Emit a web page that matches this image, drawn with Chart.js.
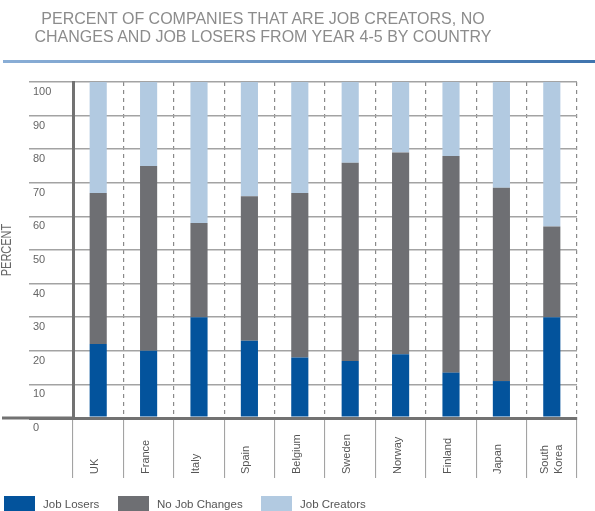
<!DOCTYPE html>
<html lang="en">
<head>
    <meta charset="UTF-8">
    <title>Job Creators by Country</title>
    <script src="https://cdn.jsdelivr.net/npm/chart.js"></script>
    <style>
        * {
            margin: 0;
            padding: 0;
            box-sizing: border-box;
        }

        body {
            width: 595px;
            height: 511px;
            overflow: hidden;
            background: white;
            position: relative;
            font-family: "Liberation Sans", Arial, sans-serif;
        }

        #chart {
            position: absolute;
            left: 0;
            top: 0;
        }

        .title {
            position: absolute;
            left: 0;
            top: 10px;
            width: 526px;
            text-align: center;
            color: #8c8c8c;
            font-size: 16px;
            line-height: 17.5px;
        }

        .rule {
            position: absolute;
            left: 3px;
            top: 60px;
            width: 592px;
            height: 3px;
            background: linear-gradient(to right, #8aaed6, #3f74ae);
        }

        .legend {
            position: absolute;
            top: 496px;
            left: 0;
            height: 15px;
            width: 595px;
        }

        .legend-item {
            position: absolute;
            top: 0;
            display: flex;
            align-items: center;
            height: 15px;
            font-size: 11.5px;
            color: #555;
        }

        .legend-box {
            width: 31px;
            height: 15px;
            margin-right: 8px;
        }
    </style>
</head>
<body>
    <canvas id="chart" width="595" height="511"></canvas>
    <div class="title">PERCENT OF COMPANIES THAT ARE JOB CREATORS, NO<br>CHANGES AND JOB LOSERS FROM YEAR 4-5 BY COUNTRY</div>
    <div class="rule"></div>
    <div class="legend" id="legend"></div>

    <script>
        const countries = ['UK', 'France', 'Italy', 'Spain', 'Belgium', 'Sweden', 'Norway', 'Finland', 'Japan', ['South', 'Korea']];
        const jobLosers = [22, 20, 30, 23, 18, 17, 19, 13.5, 11, 30];
        const noJobChanges = [45, 55, 28, 43, 49, 59, 60, 64.5, 57.5, 27];
        const jobCreators = [33, 25, 42, 34, 33, 24, 21, 22, 31.5, 43];
        const seriesNames = ['Job Losers', 'No Job Changes', 'Job Creators'];
        const seriesColors = ['#03539c', '#6e6f73', '#b2cae1'];
        const yTicks = [0, 10, 20, 30, 40, 50, 60, 70, 80, 90, 100];

        const FONT = '"Liberation Sans", Arial, sans-serif';
        const AXIS_DARK = '#727272';

        // baseline running out to the page edge, the rotated axis title and the category names
        const extras = {
            id: 'extras',
            afterDraw(chart) {
                const ctx = chart.ctx;
                const x = chart.scales.x;
                const y = chart.scales.y;
                const area = chart.chartArea;

                ctx.save();
                ctx.strokeStyle = AXIS_DARK;
                ctx.lineWidth = 3;
                ctx.beginPath();
                const by = y.getPixelForValue(0);
                ctx.moveTo(2, by);
                ctx.lineTo(area.left, by);
                ctx.stroke();

                ctx.fillStyle = '#666';
                ctx.font = '11px ' + FONT;
                ctx.textAlign = 'center';
                ctx.textBaseline = 'middle';
                ctx.save();
                ctx.translate(7.5, 250);
                ctx.rotate(-Math.PI / 2);
                ctx.scale(1, 1.3);
                ctx.fillText('PERCENT', 0, 0);
                ctx.restore();

                ctx.fillStyle = '#555';
                ctx.textAlign = 'left';
                countries.forEach((label, i) => {
                    const lines = Array.isArray(label) ? label : [label];
                    const px = x.getPixelForTick(i);
                    const start = lines.length === 1 ? px - 3 : px - (lines.length - 1) * 7;
                    lines.forEach((line, j) => {
                        ctx.save();
                        ctx.translate(start + j * 14, 474);
                        ctx.rotate(-Math.PI / 2);
                        ctx.fillText(line, 0, 0);
                        ctx.restore();
                    });
                });
                ctx.restore();
            }
        };

        const seriesData = [jobLosers, noJobChanges, jobCreators];

        new Chart(document.getElementById('chart'), {
            type: 'bar',
            data: {
                labels: countries,
                datasets: seriesNames.map((name, i) => ({
                    label: name,
                    data: seriesData[i],
                    backgroundColor: seriesColors[i],
                    barPercentage: 0.34,
                    categoryPercentage: 1
                }))
            },
            options: {
                responsive: false,
                animation: false,
                layout: {
                    padding: { top: 82, right: 18, bottom: 33, left: 33 }
                },
                plugins: {
                    legend: { display: false },
                    tooltip: { enabled: false }
                },
                scales: {
                    x: {
                        stacked: true,
                        offset: true,
                        ticks: { display: false },
                        grid: {
                            offset: true,
                            color: c => c.index === 0 ? 'rgba(0,0,0,0)' : '#8a8a8a',
                            lineWidth: 1.2,
                            tickLength: 60,
                            tickColor: '#9a9a9a',
                            tickWidth: 1,
                            tickBorderDash: []
                        },
                        border: { color: AXIS_DARK, width: 3, dash: [4, 4] },
                        afterFit: s => { s.height = 60; }
                    },
                    y: {
                        stacked: true,
                        min: 0,
                        max: 100,
                        afterBuildTicks: s => { s.ticks = yTicks.map(v => ({ value: v })); },
                        ticks: {
                            crossAlign: 'far',
                            labelOffset: 10,
                            color: '#666',
                            font: { size: 11, family: FONT }
                        },
                        grid: {
                            color: c => c.tick && c.tick.value === 0 ? AXIS_DARK : '#a3a3a3',
                            lineWidth: c => c.tick && c.tick.value === 0 ? 3 : 1.5,
                            tickLength: 44
                        },
                        border: { color: AXIS_DARK, width: 3 },
                        afterFit: s => { s.width = 40; }
                    }
                }
            },
            plugins: [extras]
        });

        // legend row along the bottom edge
        const legendX = [4, 118, 261];
        const legend = document.getElementById('legend');
        seriesNames.forEach((name, i) => {
            const item = document.createElement('div');
            item.className = 'legend-item';
            item.style.left = legendX[i] + 'px';
            item.innerHTML = '<div class="legend-box" style="background:' + seriesColors[i] + '"></div>' + name;
            legend.appendChild(item);
        });
    </script>
</body>
</html>
